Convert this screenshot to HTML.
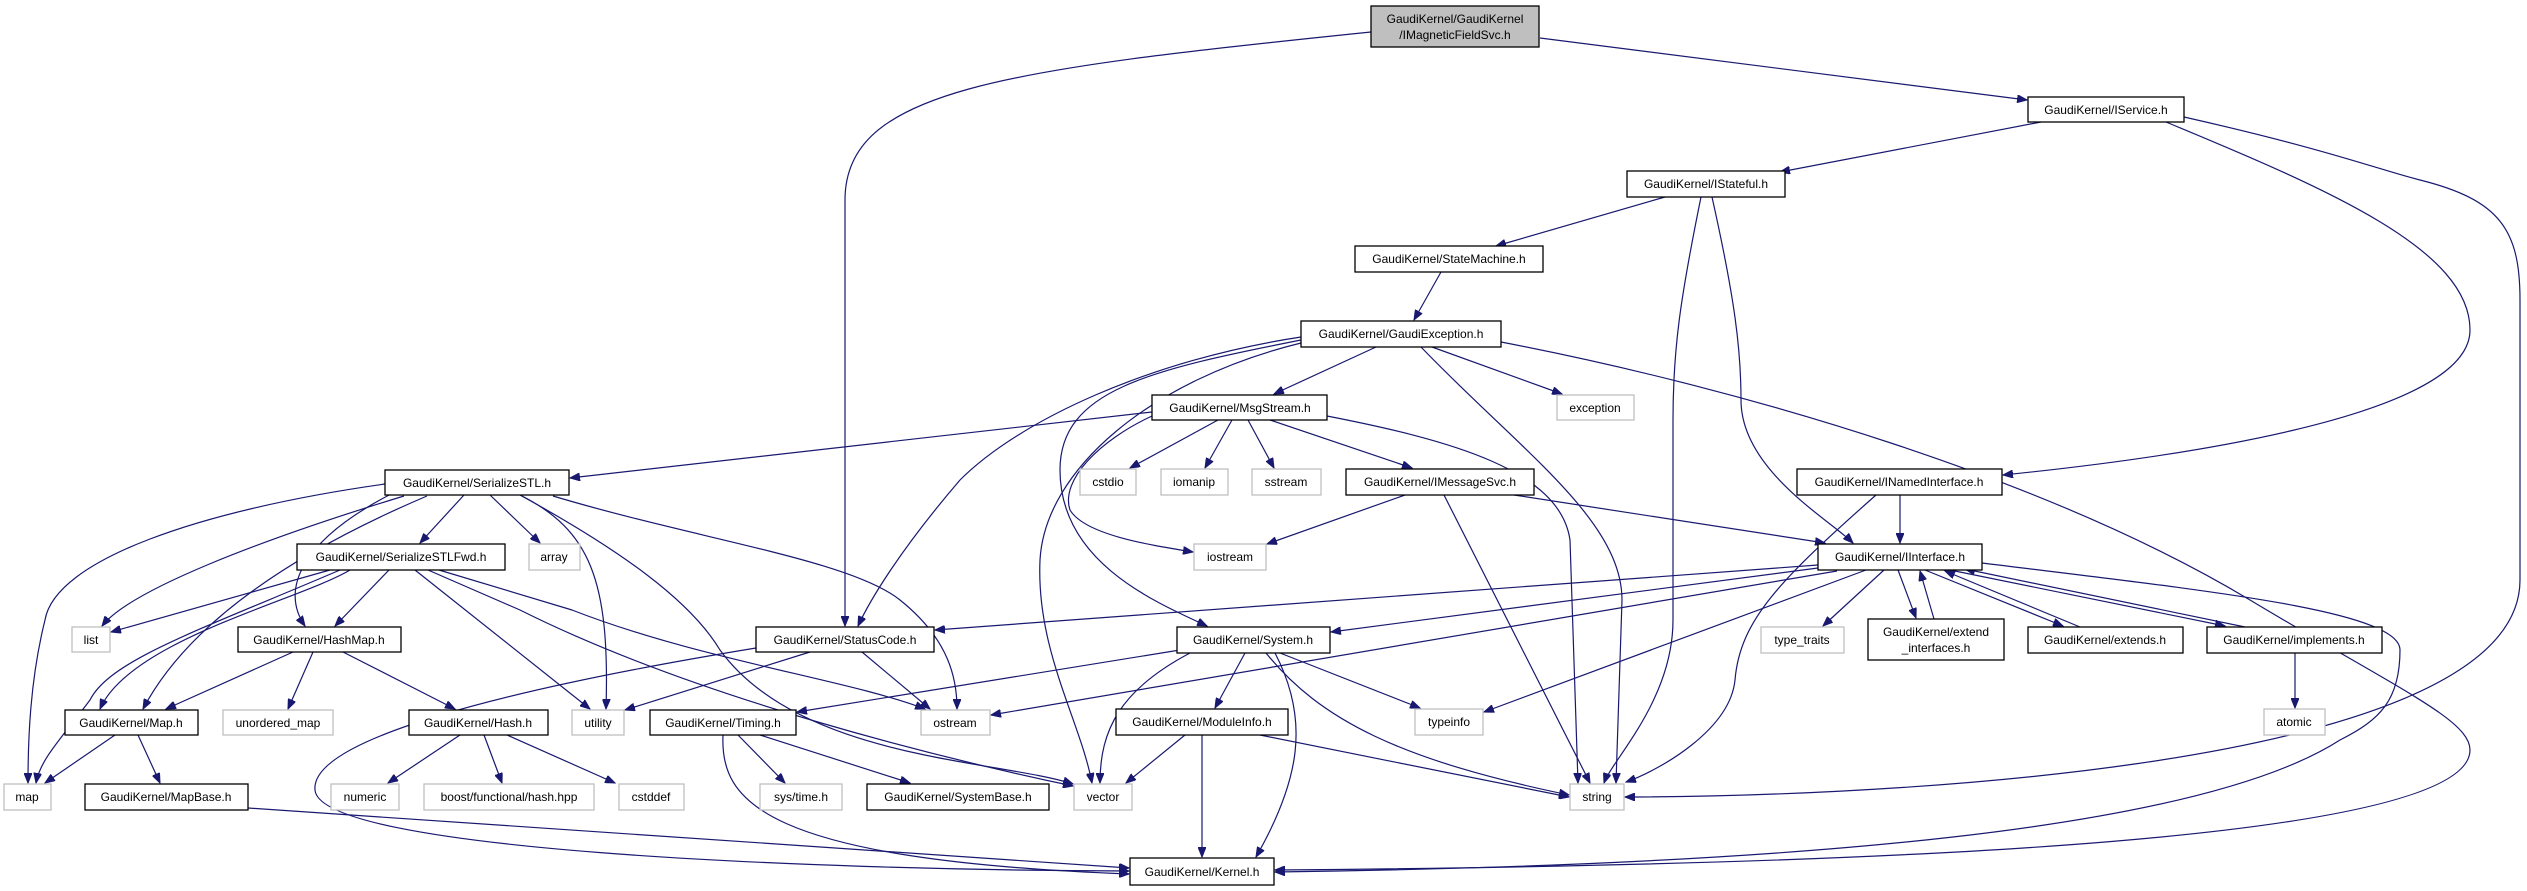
<!DOCTYPE html>
<html><head><meta charset="utf-8"><style>
html,body{margin:0;padding:0;background:#fff;}
svg{display:block;}
text{font-family:"Liberation Sans",sans-serif;font-size:12px;fill:#000;text-anchor:middle;}
.n{fill:#fff;stroke:#000;stroke-width:1.3;}
.g{fill:#fff;stroke:#bfbfbf;stroke-width:1.3;}
.e{fill:none;stroke:#191970;stroke-width:1.2;marker-end:url(#a);}
</style></head><body>
<svg width="2527" height="891" viewBox="0 0 2527 891" xmlns="http://www.w3.org/2000/svg">
<defs><marker id="a" markerUnits="userSpaceOnUse" markerWidth="11" markerHeight="8" refX="10" refY="4" orient="auto"><path d="M0,0 L10,4 L0,8 z" fill="#191970" stroke="#191970"/></marker></defs>

<!-- edges -->
<path class="e" d="M1371,32 C1000,70 845,90 845,200 L845,626"/>
<path class="e" d="M1540,38 L2027,100"/>
<path class="e" d="M2041,122 L1780,172"/>
<path class="e" d="M2166,122 C2330,190 2470,250 2470,330 C2470,420 2150,460 2003,475"/>
<path class="e" d="M2184,117 C2330,150 2380,170 2420,180 C2500,200 2520,230 2520,300 L2520,580 C2520,780 1800,797 1625,797"/>
<path class="e" d="M1665,197 L1496,246"/>
<path class="e" d="M1701,197 C1680,300 1673,350 1673,420 L1673,620 C1673,700 1612,760 1604,783"/>
<path class="e" d="M1712,197 C1735,300 1741,350 1741,400 C1741,470 1830,520 1853,543"/>
<path class="e" d="M1441,272 L1414,320"/>
<path class="e" d="M1376,347 L1274,394"/>
<path class="e" d="M1432,347 L1562,394"/>
<path class="e" d="M1421,347 C1520,450 1622,520 1622,600 L1616,783"/>
<path class="e" d="M1501,342 C1750,390 2050,480 2250,600 C2400,690 2470,720 2470,750 C2470,840 1900,865 1275,870"/>
<path class="e" d="M1301,337 C1150,360 1020,420 960,480 C900,550 870,600 858,626"/>
<path class="e" d="M1301,340 C1150,370 1060,390 1060,470 C1060,560 1150,600 1207,626"/>
<path class="e" d="M1301,343 C1150,380 1045,470 1040,560 C1036,650 1080,720 1092,783"/>
<path class="e" d="M1152,416 C1100,440 1060,480 1070,510 C1085,535 1150,545 1193,552"/>
<path class="e" d="M1152,412 L570,478"/>
<path class="e" d="M1218,420 L1130,468"/>
<path class="e" d="M1232,420 L1205,468"/>
<path class="e" d="M1248,420 L1274,468"/>
<path class="e" d="M1270,420 L1412,468"/>
<path class="e" d="M1327,416 C1450,440 1560,470 1570,540 L1578,783"/>
<path class="e" d="M1405,495 L1267,544"/>
<path class="e" d="M1444,495 L1590,783"/>
<path class="e" d="M1514,495 L1825,543"/>
<path class="e" d="M1900,495 L1900,543"/>
<path class="e" d="M1876,495 C1780,580 1740,620 1735,680 C1730,730 1660,770 1626,782"/>
<path class="e" d="M1818,565 L935,630"/>
<path class="e" d="M1818,568 L1331,632"/>
<path class="e" d="M1837,571 L991,715"/>
<path class="e" d="M1866,570 L1484,712"/>
<path class="e" d="M1884,570 L1823,626"/>
<path class="e" d="M1898,570 L1916,618"/>
<path class="e" d="M1934,619 L1920,571"/>
<path class="e" d="M1925,570 L2063,626"/>
<path class="e" d="M2080,627 L1945,571"/>
<path class="e" d="M1950,570 L2225,626"/>
<path class="e" d="M2245,627 L1965,569"/>
<path class="e" d="M2295,653 L2295,708"/>
<path class="e" d="M1982,563 C2200,590 2400,610 2400,650 C2400,700 2380,720 2340,740 C2200,830 1800,865 1275,872"/>
<path class="e" d="M1180,650 L797,712"/>
<path class="e" d="M1245,653 L1215,708"/>
<path class="e" d="M1280,653 L1420,708"/>
<path class="e" d="M1266,653 C1320,720 1400,760 1569,795"/>
<path class="e" d="M1190,653 C1120,690 1100,730 1100,783"/>
<path class="e" d="M1275,653 C1310,720 1300,780 1256,857"/>
<path class="e" d="M1185,735 L1126,783"/>
<path class="e" d="M1260,735 L1569,797"/>
<path class="e" d="M1202,735 L1202,857"/>
<path class="e" d="M810,652 L625,710"/>
<path class="e" d="M862,652 L930,709"/>
<path class="e" d="M756,648 C500,690 310,740 315,790 C320,850 800,870 1129,871"/>
<path class="e" d="M738,735 L785,783"/>
<path class="e" d="M760,735 L910,783"/>
<path class="e" d="M723,735 C720,800 760,860 1129,874"/>
<path class="e" d="M248,808 L1129,868"/>
<path class="e" d="M115,735 L45,783"/>
<path class="e" d="M138,735 L160,783"/>
<path class="e" d="M293,652 L166,709"/>
<path class="e" d="M313,652 L288,709"/>
<path class="e" d="M343,652 L455,709"/>
<path class="e" d="M460,735 L388,783"/>
<path class="e" d="M484,735 L502,783"/>
<path class="e" d="M507,735 L615,783"/>
<path class="e" d="M464,495 L420,543"/>
<path class="e" d="M490,495 L540,543"/>
<path class="e" d="M395,492 C300,540 280,590 305,626"/>
<path class="e" d="M385,484 C200,510 55,560 45,620 C30,680 28,740 28,783"/>
<path class="e" d="M404,496 C260,540 130,590 102,626"/>
<path class="e" d="M427,496 C300,550 190,620 143,709"/>
<path class="e" d="M520,495 C590,530 610,580 606,709"/>
<path class="e" d="M520,495 C620,550 690,600 720,650 C800,760 1000,760 1073,784"/>
<path class="e" d="M553,496 C700,540 850,560 900,600 C950,640 957,680 957,709"/>
<path class="e" d="M330,570 L111,632"/>
<path class="e" d="M340,570 C200,630 110,660 90,700 C60,740 40,760 36,783"/>
<path class="e" d="M350,570 C300,600 130,640 100,709"/>
<path class="e" d="M389,570 L335,626"/>
<path class="e" d="M415,570 L590,709"/>
<path class="e" d="M428,570 L520,610 C700,700 950,760 1073,786"/>
<path class="e" d="M439,570 L572,610 C700,660 850,680 925,709"/>

<!-- nodes -->
<rect x="1371" y="6" width="168" height="41" fill="#bfbfbf" stroke="#000" stroke-width="1.3"/>
<text x="1455" y="23">GaudiKernel/GaudiKernel</text><text x="1455" y="39">/IMagneticFieldSvc.h</text>
<rect class="n" x="2028" y="97" width="156" height="25"/><text x="2106" y="114">GaudiKernel/IService.h</text>
<rect class="n" x="1627" y="171" width="158" height="26"/><text x="1706" y="188">GaudiKernel/IStateful.h</text>
<rect class="n" x="1355" y="246" width="188" height="26"/><text x="1449" y="263">GaudiKernel/StateMachine.h</text>
<rect class="n" x="1301" y="321" width="200" height="26"/><text x="1401" y="338">GaudiKernel/GaudiException.h</text>
<rect class="n" x="1152" y="395" width="175" height="25"/><text x="1240" y="412">GaudiKernel/MsgStream.h</text>
<rect class="g" x="1557" y="395" width="77" height="25"/><text x="1595" y="412">exception</text>
<rect class="g" x="1080" y="469" width="56" height="26"/><text x="1108" y="486">cstdio</text>
<rect class="g" x="1161" y="469" width="67" height="26"/><text x="1194" y="486">iomanip</text>
<rect class="g" x="1252" y="469" width="69" height="26"/><text x="1286" y="486">sstream</text>
<rect class="n" x="1346" y="469" width="188" height="26"/><text x="1440" y="486">GaudiKernel/IMessageSvc.h</text>
<rect class="n" x="385" y="470" width="184" height="25"/><text x="477" y="487">GaudiKernel/SerializeSTL.h</text>
<rect class="n" x="1797" y="469" width="205" height="26"/><text x="1899" y="486">GaudiKernel/INamedInterface.h</text>
<rect class="n" x="297" y="544" width="208" height="26"/><text x="401" y="561">GaudiKernel/SerializeSTLFwd.h</text>
<rect class="g" x="529" y="544" width="51" height="26"/><text x="554" y="561">array</text>
<rect class="g" x="1194" y="544" width="72" height="26"/><text x="1230" y="561">iostream</text>
<rect class="n" x="1818" y="544" width="164" height="26"/><text x="1900" y="561">GaudiKernel/IInterface.h</text>
<rect class="g" x="72" y="627" width="38" height="25"/><text x="91" y="644">list</text>
<rect class="n" x="238" y="627" width="163" height="25"/><text x="319" y="644">GaudiKernel/HashMap.h</text>
<rect class="n" x="756" y="627" width="178" height="25"/><text x="845" y="644">GaudiKernel/StatusCode.h</text>
<rect class="n" x="1177" y="627" width="153" height="26"/><text x="1253" y="644">GaudiKernel/System.h</text>
<rect class="g" x="1761" y="627" width="83" height="26"/><text x="1802" y="644">type_traits</text>
<rect class="n" x="1868" y="619" width="136" height="41"/><text x="1936" y="636">GaudiKernel/extend</text><text x="1936" y="652">_interfaces.h</text>
<rect class="n" x="2028" y="627" width="155" height="26"/><text x="2105" y="644">GaudiKernel/extends.h</text>
<rect class="n" x="2207" y="627" width="175" height="26"/><text x="2294" y="644">GaudiKernel/implements.h</text>
<rect class="n" x="65" y="710" width="133" height="25"/><text x="131" y="727">GaudiKernel/Map.h</text>
<rect class="g" x="223" y="710" width="110" height="25"/><text x="278" y="727">unordered_map</text>
<rect class="n" x="409" y="710" width="139" height="25"/><text x="478" y="727">GaudiKernel/Hash.h</text>
<rect class="g" x="572" y="710" width="52" height="25"/><text x="598" y="727">utility</text>
<rect class="n" x="650" y="710" width="146" height="25"/><text x="723" y="727">GaudiKernel/Timing.h</text>
<rect class="g" x="921" y="710" width="69" height="25"/><text x="955" y="727">ostream</text>
<rect class="n" x="1116" y="709" width="172" height="26"/><text x="1202" y="726">GaudiKernel/ModuleInfo.h</text>
<rect class="g" x="1415" y="709" width="68" height="26"/><text x="1449" y="726">typeinfo</text>
<rect class="g" x="2264" y="709" width="61" height="26"/><text x="2294" y="726">atomic</text>
<rect class="g" x="4" y="784" width="47" height="26"/><text x="27" y="801">map</text>
<rect class="n" x="85" y="784" width="163" height="26"/><text x="166" y="801">GaudiKernel/MapBase.h</text>
<rect class="g" x="331" y="784" width="68" height="26"/><text x="365" y="801">numeric</text>
<rect class="g" x="424" y="784" width="170" height="26"/><text x="509" y="801">boost/functional/hash.hpp</text>
<rect class="g" x="619" y="784" width="65" height="26"/><text x="651" y="801">cstddef</text>
<rect class="g" x="760" y="784" width="82" height="26"/><text x="801" y="801">sys/time.h</text>
<rect class="n" x="867" y="784" width="182" height="26"/><text x="958" y="801">GaudiKernel/SystemBase.h</text>
<rect class="g" x="1074" y="784" width="58" height="26"/><text x="1103" y="801">vector</text>
<rect class="g" x="1570" y="784" width="54" height="26"/><text x="1597" y="801">string</text>
<rect class="n" x="1130" y="858" width="144" height="27"/><text x="1202" y="876">GaudiKernel/Kernel.h</text>
</svg>
</body></html>
